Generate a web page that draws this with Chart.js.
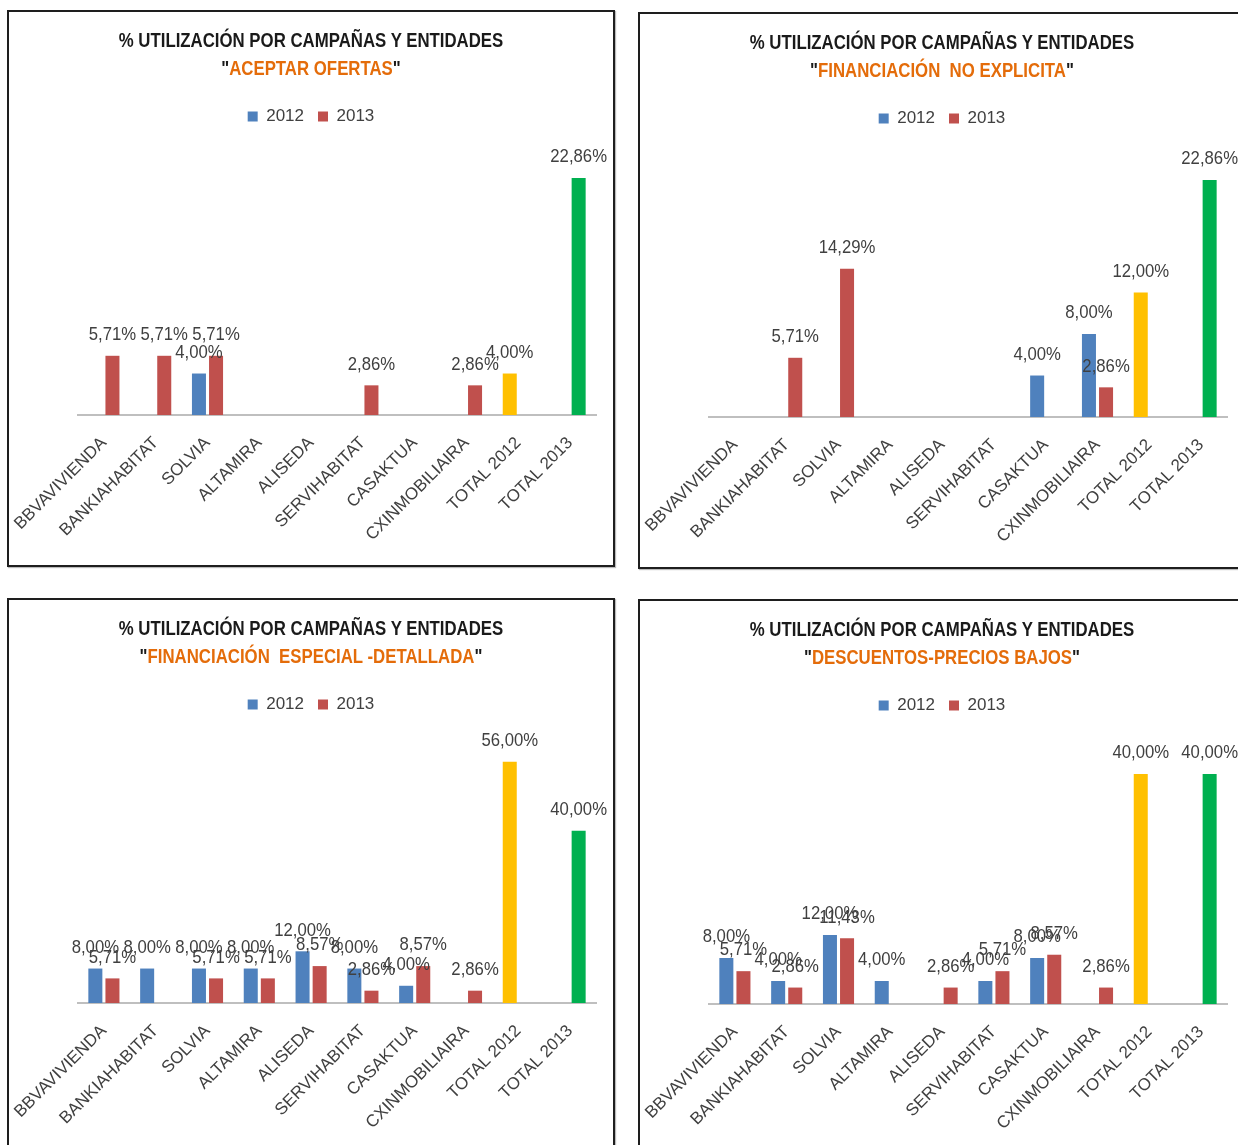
<!DOCTYPE html>
<html>
<head>
<meta charset="utf-8">
<script src="https://cdn.jsdelivr.net/npm/chart.js@4"></script>
<style>
  html, body { margin: 0; padding: 0; background: #fff; }
  body { width: 1238px; height: 1145px; overflow: hidden; position: relative; }
  .panel {
    position: absolute; width: 608px; height: 557px;
    border: 2px solid #1e1e1e; box-sizing: border-box; background: #fff;
    box-shadow: 1px 1px 1px #bbb;
  }
  .panel canvas { position: absolute; left: 0; top: 0; }
  .titulo {
    position: absolute; left: 0; top: 14px; width: 604px; text-align: center;
    font-family: "Liberation Sans", sans-serif;
    font-weight: bold; font-size: 21px; line-height: 28px; color: #1a1a1a;
    transform: scaleX(0.8); transform-origin: 302px 0;
  }
  .titulo span { color: #e46c0a; }
</style>
</head>
<body>
<div class="panel" style="left:7px; top:10px;">
  <canvas id="c1" width="604" height="553"></canvas>
  <div class="titulo">% UTILIZACIÓN POR CAMPAÑAS Y ENTIDADES<br>"<span>ACEPTAR OFERTAS</span>"</div>
</div>
<div class="panel" style="left:638px; top:12px;">
  <canvas id="c2" width="604" height="553"></canvas>
  <div class="titulo">% UTILIZACIÓN POR CAMPAÑAS Y ENTIDADES<br>"<span>FINANCIACIÓN&nbsp; NO EXPLICITA</span>"</div>
</div>
<div class="panel" style="left:7px; top:598px;">
  <canvas id="c3" width="604" height="553"></canvas>
  <div class="titulo">% UTILIZACIÓN POR CAMPAÑAS Y ENTIDADES<br>"<span>FINANCIACIÓN&nbsp; ESPECIAL -DETALLADA</span>"</div>
</div>
<div class="panel" style="left:638px; top:599px;">
  <canvas id="c4" width="604" height="553"></canvas>
  <div class="titulo">% UTILIZACIÓN POR CAMPAÑAS Y ENTIDADES<br>"<span>DESCUENTOS-PRECIOS BAJOS</span>"</div>
</div>
<script>
var entidades = ["BBVAVIVIENDA", "BANKIAHABITAT", "SOLVIA", "ALTAMIRA", "ALISEDA",
                 "SERVIHABITAT", "CASAKTUA", "CXINMOBILIAIRA", "TOTAL 2012", "TOTAL 2013"];

// % por campaña, null = sin barra
var aceptar2012 = [null, null, 4.00, null, null, null, null, null, 4.00, null];
var aceptar2013 = [5.71, 5.71, 5.71, null, null, 2.86, null, 2.86, null, 22.86];

var noExplicita2012 = [null, null, null, null, null, null, 4.00, 8.00, 12.00, null];
var noExplicita2013 = [null, 5.71, 14.29, null, null, null, null, 2.86, null, 22.86];

var especial2012 = [8.00, 8.00, 8.00, 8.00, 12.00, 8.00, 4.00, null, 56.00, null];
var especial2013 = [5.71, null, 5.71, 5.71, 8.57, 2.86, 8.57, 2.86, null, 40.00];

var descuentos2012 = [8.00, 4.00, 12.00, 4.00, null, 4.00, 8.00, null, 40.00, null];
var descuentos2013 = [5.71, 2.86, 11.43, null, 2.86, 5.71, 8.57, 2.86, null, 40.00];

var AZUL = "#4f81bd", ROJO = "#c0504d", AMARILLO = "#ffc000", VERDE = "#00b050";
var FUENTE = '"Liberation Sans", sans-serif';

function formato(v) {
  return v.toFixed(2).replace(".", ",") + "%";
}

// etiquetas de valor encima de cada barra (texto algo estrecho, como Calibri)
var etiquetas = {
  id: "etiquetas",
  afterDatasetsDraw: function (chart) {
    var ctx = chart.ctx;
    chart.data.datasets.forEach(function (ds, i) {
      chart.getDatasetMeta(i).data.forEach(function (bar, j) {
        var v = ds.data[j];
        if (v === null) return;
        ctx.save();
        ctx.font = "19px " + FUENTE;
        ctx.fillStyle = "#404040";
        ctx.textAlign = "center";
        ctx.textBaseline = "middle";
        ctx.translate(bar.x, bar.y - 21);
        ctx.scale(0.88, 1);
        ctx.fillText(formato(v), 0, 0);
        ctx.restore();
      });
    });
  }
};

// eje invisible que solo reserva un margen (así la leyenda queda centrada en el panel)
function ejeVacio(posicion, ancho) {
  return {
    position: posicion,
    display: true,
    grid: { display: false, drawTicks: false },
    border: { display: false },
    ticks: { display: false },
    afterFit: function (scale) { scale.width = ancho; }
  };
}

function crearGrafico(id, datos2012, datos2013, yMax) {
  var y = ejeVacio("left", 69);
  y.min = 0;
  y.max = yMax;
  return new Chart(id, {
    type: "bar",
    data: {
      labels: entidades,
      datasets: [
        {
          label: "2012",
          data: datos2012,
          backgroundColor: function (c) {
            return entidades[c.dataIndex] === "TOTAL 2012" ? AMARILLO : AZUL;
          }
        },
        {
          label: "2013",
          data: datos2013,
          backgroundColor: function (c) {
            return entidades[c.dataIndex] === "TOTAL 2013" ? VERDE : ROJO;
          }
        }
      ]
    },
    options: {
      responsive: false,
      animation: false,
      devicePixelRatio: 1,
      categoryPercentage: 0.66,
      barPercentage: 0.82,
      layout: { padding: { top: 82, left: 0, right: 0, bottom: 0 } },
      plugins: {
        title: { display: false },
        tooltip: { enabled: false },
        legend: {
          display: true,
          position: "top",
          labels: {
            boxWidth: 10,
            boxHeight: 10,
            padding: 14,
            color: "#404040",
            font: { family: FUENTE, size: 17 }
          }
        }
      },
      scales: {
        x: {
          grid: { display: false, drawTicks: false },
          border: { display: true, color: "#bfbfbf", width: 2 },
          ticks: {
            minRotation: 45,
            maxRotation: 45,
            autoSkip: false,
            padding: 18,
            color: "#404040",
            font: { family: FUENTE, size: 17 }
          },
          afterFit: function (scale) {
            scale.height = 150;
            scale.paddingLeft = 0;
            scale.paddingRight = 0;
          }
        },
        y: y,
        yDer: ejeVacio("right", 17)
      }
    },
    plugins: [etiquetas]
  });
}

crearGrafico("c1", aceptar2012, aceptar2013, 27);
crearGrafico("c2", noExplicita2012, noExplicita2013, 27);
crearGrafico("c3", especial2012, especial2013, 65);
crearGrafico("c4", descuentos2012, descuentos2013, 48.7);
</script>
</body>
</html>
